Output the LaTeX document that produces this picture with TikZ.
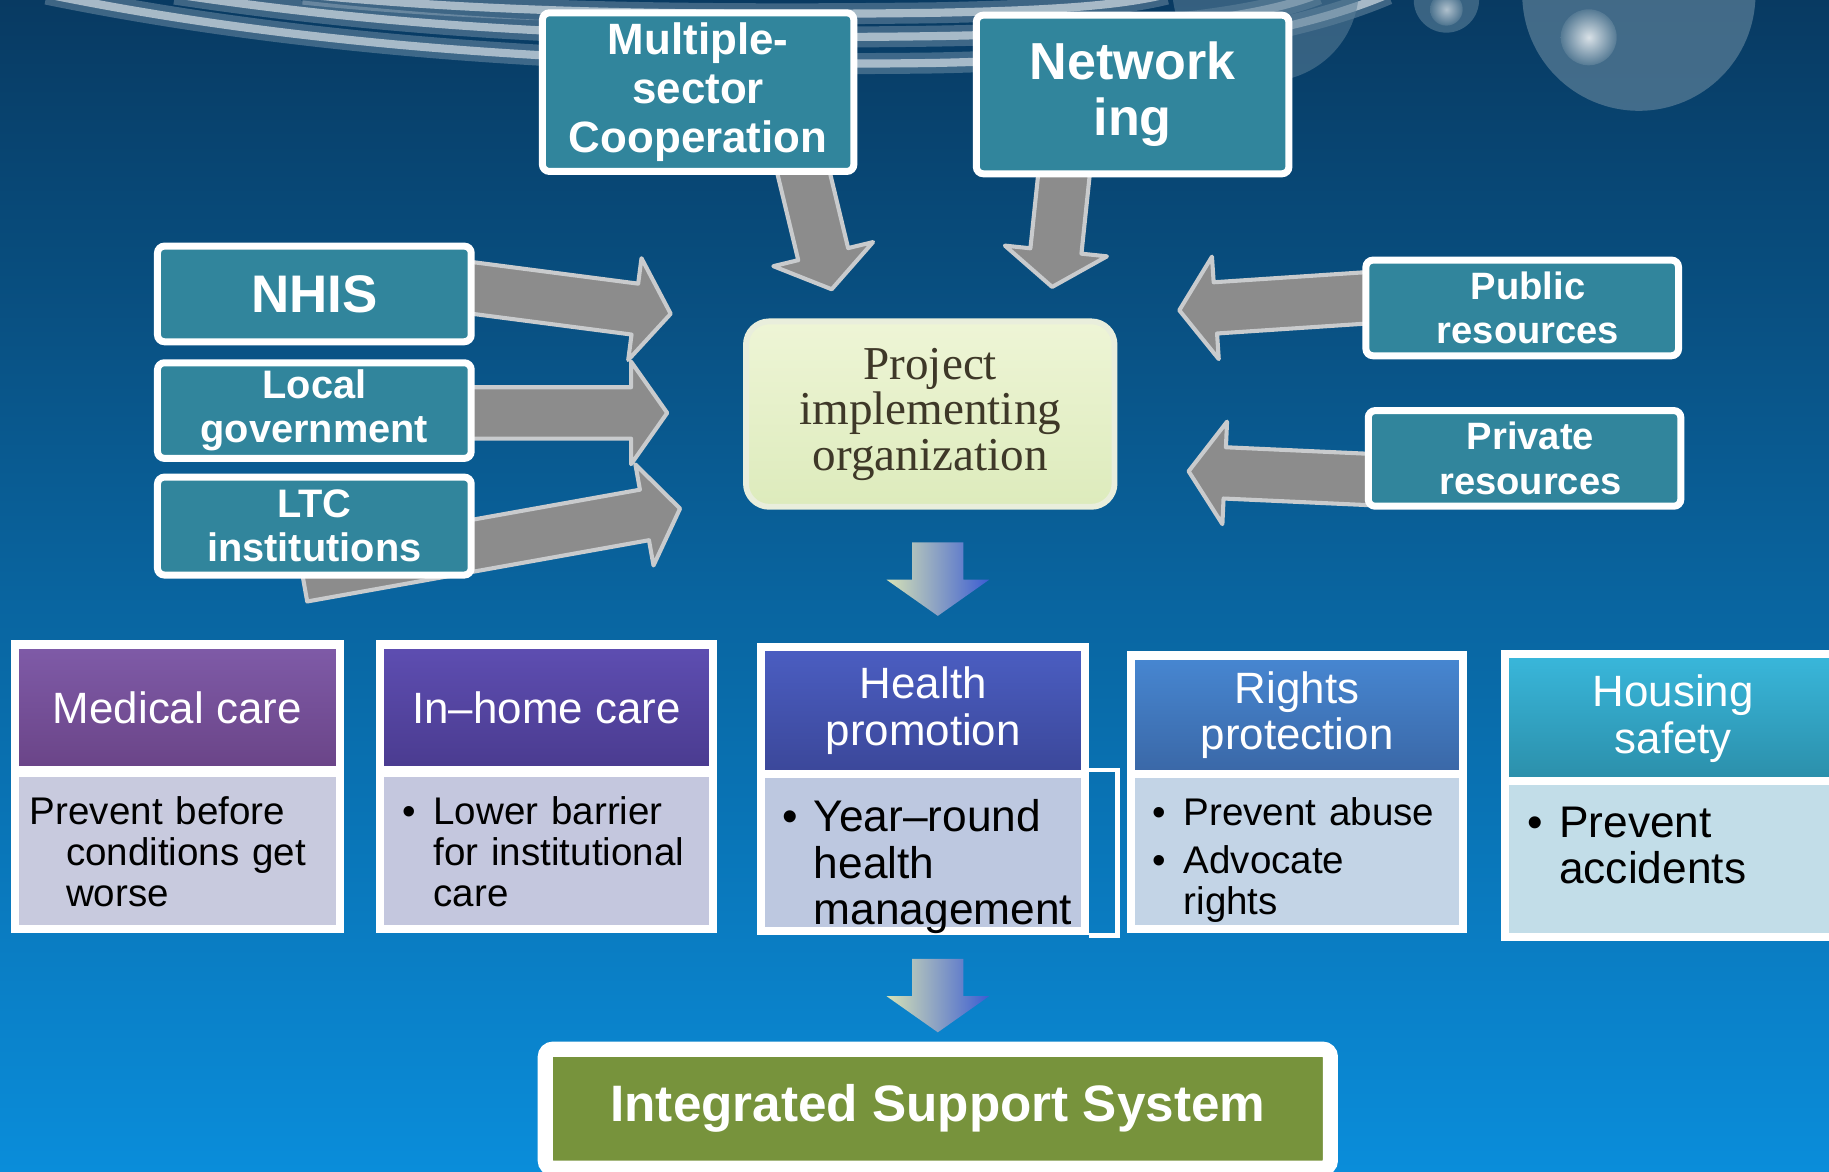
\documentclass[tikz,border=0pt]{standalone}
\usepackage{fontspec}
\setmainfont{Liberation Sans}
\newfontfamily\orgfont{Liberation Serif}
\usetikzlibrary{calc}
\definecolor{bgtop}{HTML}{083A62}
\definecolor{bgmid}{HTML}{05619E}
\definecolor{bgbot}{HTML}{0A8DDA}
\definecolor{srcteal}{HTML}{31859C}
\definecolor{arrowgray}{HTML}{8C8C8C}
\definecolor{arrowedge}{HTML}{C9CBCD}
\definecolor{orgtop}{HTML}{EEF5D6}
\definecolor{orgbot}{HTML}{DDEBBC}
\definecolor{orgedge}{HTML}{E9EEDC}
\definecolor{orgtext}{HTML}{3E3828}
\definecolor{dleft}{HTML}{D6E2B6}
\definecolor{dmid}{HTML}{A4B2C4}
\definecolor{dright}{HTML}{3C5DD2}
\definecolor{medtop}{HTML}{7F5BA8}
\definecolor{medbot}{HTML}{6A4487}
\definecolor{medbody}{HTML}{C8CADE}
\definecolor{hometop}{HTML}{5E4EB2}
\definecolor{homebot}{HTML}{4A3B8F}
\definecolor{homebody}{HTML}{C4C7DE}
\definecolor{healthtop}{HTML}{4B5EC2}
\definecolor{healthbot}{HTML}{3B4799}
\definecolor{healthbody}{HTML}{BDC8E0}
\definecolor{righttop}{HTML}{4787D2}
\definecolor{rightbot}{HTML}{3A67A6}
\definecolor{rightbody}{HTML}{C3D4E6}
\definecolor{housetop}{HTML}{39B7DB}
\definecolor{housebot}{HTML}{2B8EA9}
\definecolor{housebody}{HTML}{C2DDE8}
\definecolor{issgreen}{HTML}{77933C}
\definecolor{bubble}{HTML}{5B7F98}

\pgfdeclarelayer{back}
\pgfdeclarelayer{arrows}
\pgfsetlayers{back,arrows,main}

% block arrow: [style]{tail}{tip}
\newcommand\fatarrow[3][]{%
  \coordinate (fa-h) at ($(#3)!3.1mm!(#2)$);
  \path[#1] ($(#2)!2.2mm!90:(#3)$) -- ($(fa-h)!2.2mm!-90:(#2)$)
    -- ($(fa-h)!4.4mm!-90:(#2)$) -- (#3) -- ($(fa-h)!4.4mm!90:(#2)$)
    -- ($(fa-h)!2.2mm!90:(#2)$) -- ($(#2)!2.2mm!-90:(#3)$) -- cycle;
}
\newcommand\bulit{\makebox[2.7mm][l]{\textbullet}}
\newcommand\hangit{\hspace*{2.7mm}}

\tikzset{
  srcbox/.style={draw=white, line width=0.6mm, fill=srcteal, rounded corners=0.6mm,
    text=white, align=center, inner sep=0pt},
  orgbox/.style={draw=orgedge, line width=0.5mm, rounded corners=2mm,
    top color=orgtop, bottom color=orgbot, text=orgtext, align=center, inner sep=0pt,
    font=\orgfont\fontsize{11.5}{11.1}\selectfont},
  headbox/.style={draw=white, line width=0.7mm, text=white, align=center, inner sep=0pt,
    font=\fontsize{10.7}{11.4}\selectfont},
  bodybox/.style={draw=white, line width=0.7mm, inner sep=0pt},
  smalltxt/.style={align=left, text width=26mm, inner sep=0pt,
    font=\fontsize{9.4}{10}\selectfont},
  bigtxt/.style={align=left, text width=26mm, inner sep=0pt,
    font=\fontsize{10.8}{11.3}\selectfont},
  grayarrow/.style={fill=arrowgray, draw=arrowedge, line width=0.35mm, line join=round},
  downarrow/.style={left color=dleft, middle color=dmid, right color=dright},
}

\begin{document}
\begin{tikzpicture}[x=0.1mm, y=-0.1mm]
\useasboundingbox (0,0) rectangle (1568,1004);

% backdrop
\begin{pgfonlayer}{back}
  \shade[top color=bgtop, middle color=bgmid, bottom color=bgbot] (0,0) rectangle (1568,1004);
  \begin{scope}
    \clip (0,0) rectangle (1568,1004);
    \foreach \w/\o in {1.8/0.22, 0.7/0.55}{
      \draw[white, opacity=\o, line width=\w mm]
        (40,-5) .. controls (250,38) and (500,58) .. (800,54) .. controls (1000,50) and (1120,25) .. (1190,-5);
      \draw[white, opacity=\o, line width=\w mm]
        (150,-5) .. controls (330,22) and (520,35) .. (800,31) .. controls (980,28) and (1080,15) .. (1130,-5);
      \draw[white, opacity=\o, line width=\w mm]
        (260,-5) .. controls (400,9) and (560,14) .. (800,11) .. controls (900,9) and (960,5) .. (1000,-5);
    }
    \fill[bubble, opacity=0.7] (1405,-5) circle (100);
    \fill[bubble, opacity=0.55] (1085,-10) circle (80);
    \fill[bubble, opacity=0.6] (1240,0) circle (28);
    \shade[inner color=white, outer color=bubble, opacity=0.8] (1362,32) circle (24);
    \shade[inner color=white, outer color=bubble, opacity=0.6] (1240,8) circle (14);
  \end{scope}
\end{pgfonlayer}

% sources
\node[srcbox, minimum width=26.7mm, minimum height=13.6mm,
  font=\bfseries\fontsize{10.7}{12}\selectfont] (multi) at (598.5,79) {Multiple-\\sector\\Cooperation};
\node[srcbox, minimum width=26.8mm, minimum height=13.6mm,
  font=\bfseries\fontsize{12.7}{13.7}\selectfont] (net) at (971,81) {Network\\ing};
\node[srcbox, minimum width=26.9mm, minimum height=8.2mm,
  font=\bfseries\fontsize{12.9}{14}\selectfont] (nhis) at (269.5,252) {NHIS};
\node[srcbox, minimum width=26.9mm, minimum height=8.2mm,
  font=\bfseries\fontsize{9.7}{10.8}\selectfont] (local) at (269.5,352) {Local\\government};
\node[srcbox, minimum width=26.9mm, minimum height=8.4mm,
  font=\bfseries\fontsize{9.7}{10.8}\selectfont] (ltc) at (269.5,451) {LTC\\institutions};
\node[srcbox, minimum width=26.8mm, minimum height=8.2mm,
  font=\bfseries\fontsize{9.3}{10.8}\selectfont] (pub) at (1305,264) {\hspace*{1mm}Public\\\hspace*{1mm}resources};
\node[srcbox, minimum width=26.8mm, minimum height=8.2mm,
  font=\bfseries\fontsize{9.3}{10.8}\selectfont] (priv) at (1307,393) {\hspace*{1mm}Private\\\hspace*{1mm}resources};

\node[orgbox, minimum width=31.6mm, minimum height=15.9mm] (org) at (797.5,355)
  {Project\\implementing\\organization};

% arrow ends
\coordinate (t-nhis) at ($(nhis.east)+(-24,-8)$);
\coordinate (t-local) at ($(local.east)+(-24,2)$);
\coordinate (t-ltc) at ($(ltc.center)+(-10,43)$);
\coordinate (t-multi) at ($(multi.south)+(86,-20)$);
\coordinate (t-net) at ($(net.south)+(-57,-20)$);
\coordinate (t-pub) at ($(pub.west)+(24,-10)$);
\coordinate (t-priv) at ($(priv.west)+(24,19)$);
\coordinate (in-nhis) at (575,269);
\coordinate (in-local) at (572,354);
\coordinate (in-ltc) at (583,436);
\coordinate (in-multi) at (713,248);
\coordinate (in-net) at (902,246);
\coordinate (in-pub) at (1011,266);
\coordinate (in-priv) at (1019,404);

\begin{pgfonlayer}{arrows}
  \foreach \a in {nhis,local,ltc,multi,net,pub,priv}
    \fatarrow[grayarrow]{t-\a}{in-\a};
\end{pgfonlayer}

% service areas
\foreach \n/\cx/\w/\hy/\hh/\by/\bh/\ca/\cb/\cc/\bs/\px/\py/\head/\body in {
  med/152/27.9/606.5/10.8/729.5/13.4/medtop/medbot/medbody/smalltxt/1.6/2.35/{Medical care}/{Prevent before\\\hspace*{3.1mm}conditions get\\\hspace*{3.1mm}worse},
  home/468.5/28.6/606.5/10.8/729.5/13.4/hometop/homebot/homebody/smalltxt/2.2/2.35/{In–home care}/{\bulit Lower barrier\\\hangit for institutional\\\hangit care},
  health/791.5/27.8/609/10.9/731/13.5/healthtop/healthbot/healthbody/bigtxt/2.1/2.5/{Health\\promotion}/{\bulit Year–round\\\hangit health\\\hangit management},
  rights/1112/28.5/613/10.2/730/13.3/righttop/rightbot/rightbody/smalltxt/2.1/2.3/{Rights\\protection}/{\bulit Prevent abuse\\[0.6mm]\bulit Advocate\\\hangit rights},
  house/1434.5/28.8/616/11.0/736.5/13.4/housetop/housebot/housebody/bigtxt/2.2/2.5/{Housing\\safety}/{\bulit Prevent\\\hangit accidents}
}{
  \node[headbox, top color=\ca, bottom color=\cb, minimum width=\w mm, minimum height=\hh mm]
    (h\n) at (\cx,\hy) {\head};
  \node[bodybox, fill=\cc, minimum width=\w mm, minimum height=\bh mm] (b\n) at (\cx,\by) {};
  \node[\bs, anchor=north west] (t\n) at ([xshift=\px mm, yshift=-\py mm]b\n.north west) {\body};
}
\draw[white, line width=0.4mm] (bhealth.north east) -| ($(bhealth.south east)+(24,0)$) -- (bhealth.south east);

\node[draw=white, line width=1.3mm, rounded corners=0.65mm, fill=issgreen, text=white,
  minimum width=67.3mm, minimum height=10.2mm, inner sep=0pt,
  font=\bfseries\fontsize{12.5}{14}\selectfont] (iss) at (804,950.5) {Integrated Support System};

% flow down
\coordinate (d1a) at (804,465);
\coordinate (d1b) at (804,528);
\coordinate (d2a) at (804,822);
\coordinate (d2b) at (804,885);
\fatarrow[downarrow]{d1a}{d1b}
\fatarrow[downarrow]{d2a}{d2b}
\end{tikzpicture}
\end{document}
